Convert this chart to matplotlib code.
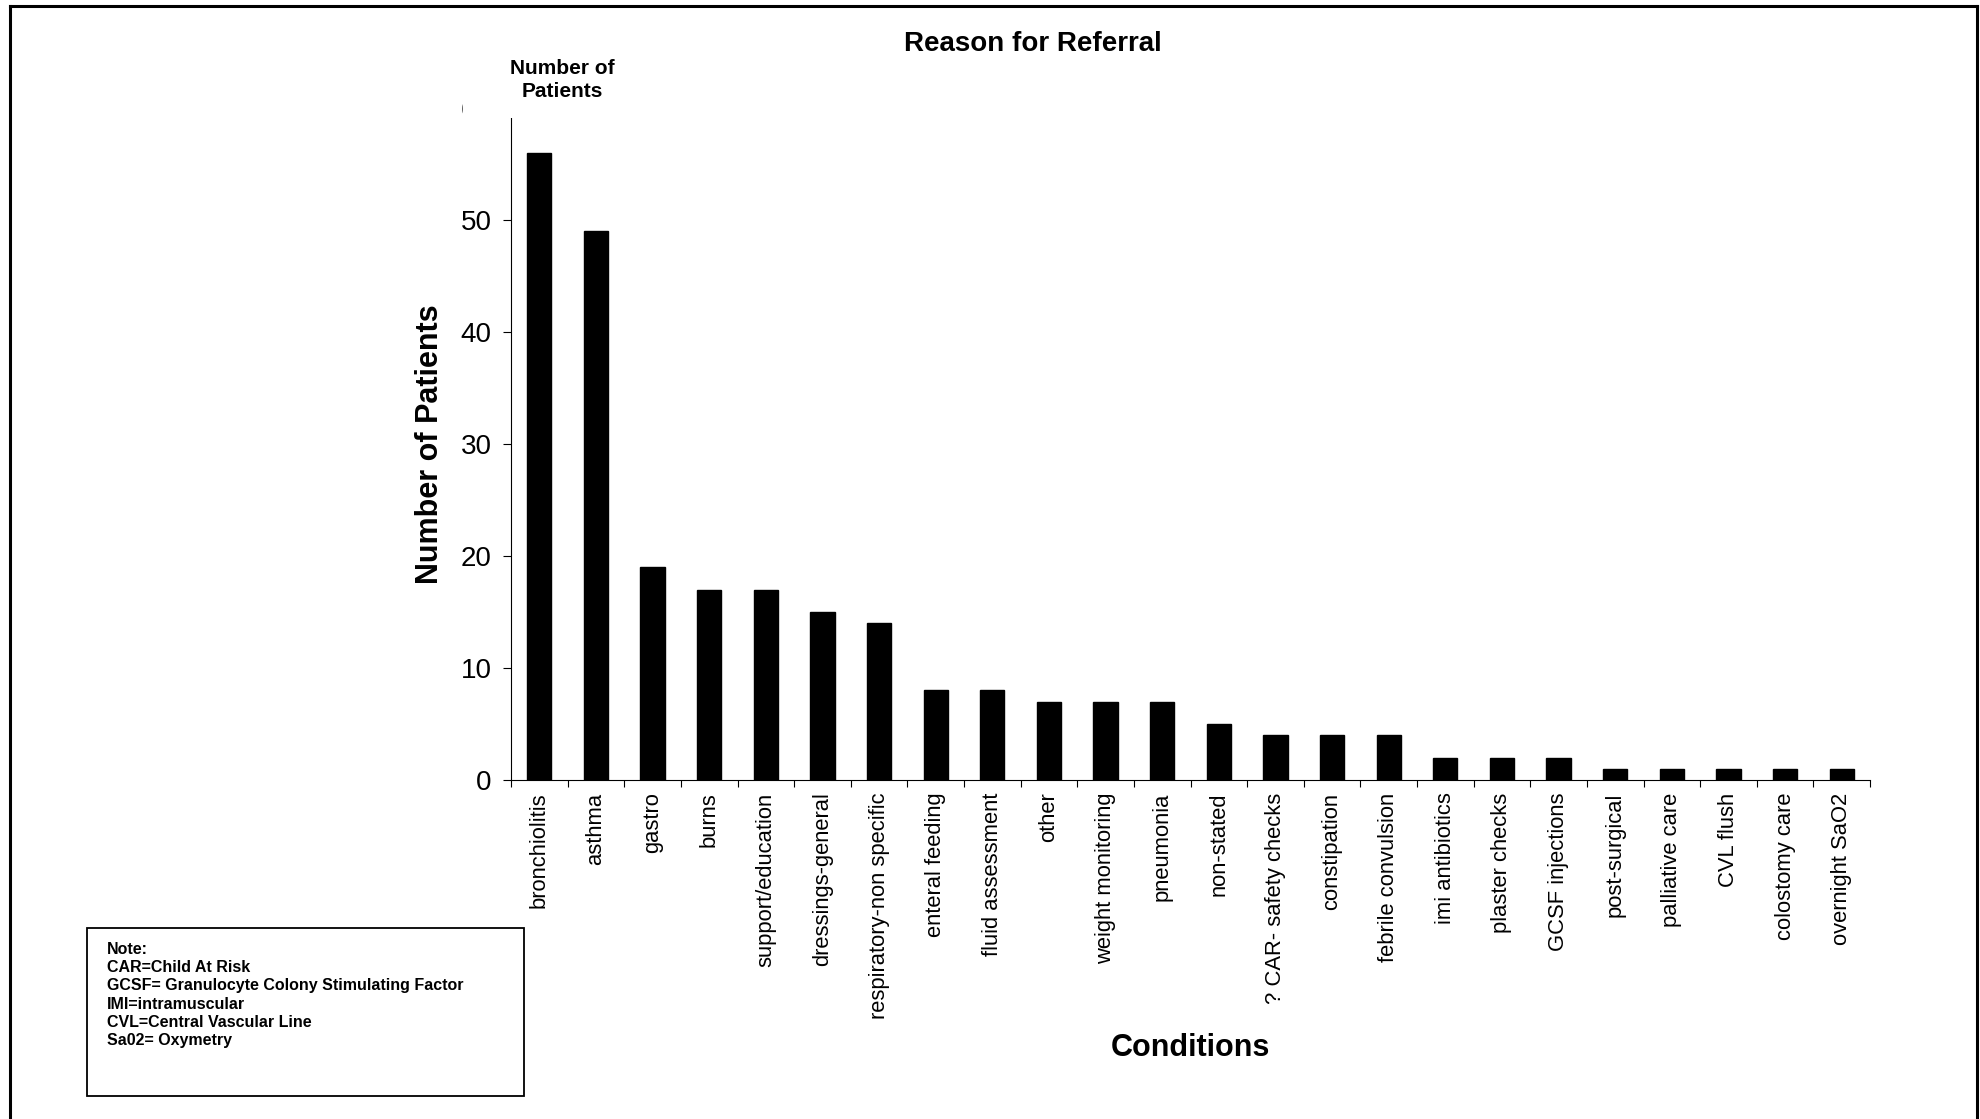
import matplotlib
matplotlib.use("Agg")
import matplotlib.pyplot as plt
from matplotlib.patches import Rectangle
from matplotlib.lines import Line2D
from matplotlib.ticker import FixedLocator

plt.rcParams['font.family'] = ['Liberation Sans', 'DejaVu Sans']

conditions = [
    "bronchiolitis", "asthma", "gastro", "burns", "support/education",
    "dressings-general", "respiratory-non specific", "enteral feeding",
    "fluid assessment", "other", "weight monitoring", "pneumonia",
    "non-stated", "? CAR- safety checks", "constipation", "febrile convulsion",
    "imi antibiotics", "plaster checks", "GCSF injections", "post-surgical",
    "palliative care", "CVL flush", "colostomy care", "overnight SaO2",
]
patients = [56, 49, 19, 17, 17, 15, 14, 8, 8, 7, 7, 7, 5, 4, 4, 4, 2, 2, 2,
            1, 1, 1, 1, 1]
y_ticks = [0, 10, 20, 30, 40, 50, 60]

note_lines = [
    "Note:",
    "CAR=Child At Risk",
    "GCSF= Granulocyte Colony Stimulating Factor",
    "IMI=intramuscular",
    "CVL=Central Vascular Line",
    "Sa02= Oxymetry",
]

W, H = 1980, 1119
fig = plt.figure(figsize=(W / 100, H / 100), dpi=100)
fig.patch.set_facecolor("white")

def fx(px):
    return px / W

def fy(py):
    return 1 - py / H

ax = fig.add_axes([fx(511), fy(780), fx(1870) - fx(511), fy(108) - fy(780)])
x = list(range(len(conditions)))
ax.bar(x, patients, width=0.43, color="black", edgecolor="black")

ax.set_xlim(-0.5, len(conditions) - 0.5)
ax.set_ylim(0, 60)
ax.set_yticks(y_ticks)
ax.set_xticks(x)
ax.set_xticklabels(conditions, rotation=90, fontsize=15.8)
ax.xaxis.set_minor_locator(FixedLocator([i - 0.5 for i in range(len(conditions) + 1)]))
ax.tick_params(axis="x", which="major", length=0, pad=9)
ax.tick_params(axis="x", which="minor", length=5, width=0.8, direction="out")
ax.tick_params(axis="y", which="major", length=6, width=0.8, direction="out",
               labelsize=20, pad=8)

for side in ("top", "right"):
    ax.spines[side].set_visible(False)
for side in ("left", "bottom"):
    ax.spines[side].set_linewidth(0.8)

ax.set_ylabel("Number of Patients", fontsize=22, fontweight="bold")
ax.yaxis.set_label_coords(-(511 - 445) / (1870 - 511), 0.5)
ax.set_xlabel("Conditions", fontsize=22, fontweight="bold")
ax.xaxis.set_label_coords((1190 - 511) / (1870 - 511), -(1033 - 780) / (780 - 108))

fig.text(fx(1033), fy(44), "Reason for Referral", fontsize=20, fontweight="bold",
         ha="center", va="center")

# white box behind the axis heading
fig.patches.append(Rectangle((fx(463), fy(118)), fx(670) - fx(463), fy(52) - fy(118),
                             transform=fig.transFigure, facecolor="white",
                             edgecolor="none", zorder=1))
fig.text(fx(562), fy(80), "Number of\nPatients", fontsize=15, fontweight="bold",
         ha="center", va="center", linespacing=1.3, zorder=3)

# note box
fig.patches.append(Rectangle((fx(87), fy(1096)), fx(524) - fx(87), fy(928) - fy(1096),
                             transform=fig.transFigure, facecolor="white",
                             edgecolor="black", linewidth=1.3, zorder=1))
fig.text(fx(107), fy(942), "\n".join(note_lines), fontsize=11.5, fontweight="bold",
         ha="left", va="top", linespacing=1.27, zorder=3)

# outer frame (left, top, right)
for xs, ys in [([fx(10), fx(10)], [fy(6), 0]),
               ([fx(10), fx(1977)], [fy(6), fy(6)]),
               ([fx(1977), fx(1977)], [fy(6), 0])]:
    fig.lines.append(Line2D(xs, ys, transform=fig.transFigure, color="black",
                            linewidth=2.2))

fig.savefig("out.png", dpi=100, facecolor="white")
